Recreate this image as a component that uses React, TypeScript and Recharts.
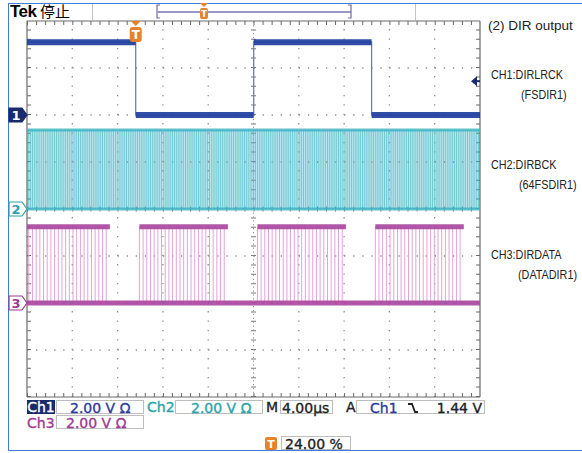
import React from 'react';
import { LineChart, Line, XAxis, YAxis, ReferenceLine, ReferenceDot, ReferenceArea } from 'recharts';

// screen: 10 div x 4 µs across, 8 divisions up (values below are in divisions)
const timeSpan = 40;
const timeGrid = [4, 8, 12, 16, 24, 28, 32, 36];
const divGrid = [1, 2, 3, 5, 6, 7];

// CH1 DIRLRCK (fs): edges in µs, first one falling at the 24 % trigger point
const lrckEdges = [9.6, 20.02, 30.43];
const ch1Low = 6.0;
const ch1High = 7.55;
const trigLevel = 6.72; // 1.44 V on ch1

// CH2 DIRBCK = 64fs -> 32 clocks per LRCK half
const bckPerHalf = 32;
const ch2Low = 4.0;
const ch2High = 5.68;

// CH3 DIRDATA: 24 bit words, I2S (one clock after LRCK edge)
const dataWords = [
  '101010101010101010101010',
  '101010101010101010101010',
  '101010101010101010101010',
  '101010101010101010101010',
];
const ch3Low = 2.0;
const ch3High = 3.62;

type Pt = { t: number; v: number | null };

const halfLen = lrckEdges[1] - lrckEdges[0];
const bitLen = halfLen / bckPerHalf;
const halfStarts = [lrckEdges[0] - halfLen, ...lrckEdges];

// ch1
const ch1Wave: Pt[] = [{ t: 0, v: ch1High }];
const ch1Band: Pt[] = [{ t: 0, v: ch1High }];
let lvl = ch1High;
lrckEdges.forEach((e) => {
  const next = lvl === ch1High ? ch1Low : ch1High;
  ch1Wave.push({ t: e, v: lvl }, { t: e, v: next });
  ch1Band.push({ t: e, v: lvl }, { t: e, v: null }, { t: e, v: next });
  lvl = next;
});
ch1Wave.push({ t: timeSpan, v: lvl });
ch1Band.push({ t: timeSpan, v: lvl });

// ch2
const ch2Wave: Pt[] = [];
halfStarts.forEach((h) => {
  for (let k = 0; k < bckPerHalf; k++) {
    const a = h + k * bitLen;
    ch2Wave.push(
      { t: a, v: ch2Low },
      { t: a + bitLen / 2, v: ch2Low },
      { t: a + bitLen / 2, v: ch2High },
      { t: a + bitLen, v: ch2High }
    );
  }
});
const ch2Band: Pt[] = [
  { t: 0, v: ch2High }, { t: timeSpan, v: ch2High }, { t: timeSpan, v: null },
  { t: 0, v: ch2Low }, { t: timeSpan, v: ch2Low },
];

// ch3
const ch3Wave: Pt[] = [];
const ch3Band: Pt[] = [];
halfStarts.forEach((h, i) => {
  for (let k = 0; k < bckPerHalf; k++) {
    const a = h + k * bitLen;
    const on = k >= 1 && k <= 24 && dataWords[i][k - 1] === '1';
    const v = on ? ch3High : ch3Low;
    ch3Wave.push({ t: a, v }, { t: a + bitLen, v });
  }
  ch3Band.push({ t: h + bitLen, v: ch3High }, { t: h + 25 * bitLen, v: ch3High }, { t: h + 25 * bitLen, v: null });
});
ch3Band.push({ t: 0, v: ch3Low }, { t: timeSpan, v: ch3Low });

const navy = '#1b2a6b';
const ch1Col = '#1f3f9f';
const ch2Col = '#2aa3a8';
const ch3Col = '#9c3a94';
const orange = '#e8822a';
const frame = '#3b7dd8';
const monoFont = '"DejaVu Sans", sans-serif';
const noteFont = '"Liberation Sans", Arial, sans-serif';

const sig = { dot: false, activeDot: false, isAnimationActive: false, type: 'linear' as const, dataKey: 'v' };

const ChMarker = (num: string, col: string, filled: boolean) => (p: any) => {
  const { cx, cy } = p;
  const pts = `${cx - 18},${cy - 7} ${cx - 5},${cy - 7} ${cx},${cy} ${cx - 5},${cy + 7} ${cx - 18},${cy + 7}`;
  return (
    <g>
      <polygon points={pts} fill={filled ? col : '#fff'} stroke={col} strokeWidth={1.2} />
      <text x={cx - 11} y={cy + 5} textAnchor="middle" fontFamily={monoFont} fontWeight="bold" fontSize={13} fill={filled ? '#fff' : col}>
        {num}
      </text>
    </g>
  );
};

const TrigArrow = (p: any) => {
  const { cx, cy } = p;
  return (
    <g>
      <polygon points={`${cx - 9},${cy} ${cx - 3},${cy - 5} ${cx - 3},${cy + 5}`} fill={navy} />
      <line x1={cx - 3} y1={cy} x2={cx} y2={cy} stroke={navy} strokeWidth={2} />
    </g>
  );
};

const TrigT = (p: any) => {
  const { cx, cy } = p;
  return (
    <g>
      <polygon points={`${cx - 5},${cy} ${cx + 5},${cy} ${cx},${cy + 5}`} fill={orange} />
      <rect x={cx - 6} y={cy + 6} width={12} height={15} rx={3} fill={orange} />
      <text x={cx} y={cy + 18} textAnchor="middle" fontFamily={monoFont} fontWeight="bold" fontSize={12} fill="#fff">T</text>
    </g>
  );
};

const abs = (x: number, y: number, extra: React.CSSProperties = {}): React.CSSProperties => ({
  position: 'absolute', left: x, top: y, whiteSpace: 'nowrap', ...extra,
});
const boxed = (x: number, y: number, w: number): React.CSSProperties =>
  abs(x, y, { width: w, height: 14, border: '1px solid #bdbdbd', boxSizing: 'border-box', background: '#fff' });
const txt = (col: string): React.CSSProperties => ({
  fontFamily: monoFont, fontSize: 14, color: col, lineHeight: '14px', WebkitTextStroke: `0.35px ${col}`,
});
const narrow: React.CSSProperties = { fontSize: 13.5, transform: 'scaleX(0.8)', transformOrigin: 'left center' };

export default function App() {
  return (
    <div style={{ position: 'fixed', left: 0, top: 0, width: 582, height: 453, background: '#fff', overflow: 'hidden' }}>
      {/* outer frame */}
      <div style={abs(8, 3, { width: 574, height: 448, border: `1.5px solid ${frame}`, borderRight: 'none', boxSizing: 'border-box' })} />
      {/* header */}
      <div style={abs(10, 2, { fontFamily: '"Liberation Sans", Arial, sans-serif', fontWeight: 'bold', fontSize: 17, letterSpacing: -0.5 })}>Tek</div>
      <div style={abs(40, 2, { fontFamily: '"Noto Sans CJK SC", sans-serif', fontSize: 15, lineHeight: '18px' })}>停止</div>
      <div style={abs(92, 4, { width: 1, height: 16, background: '#c4c4c4' })} />
      <div style={abs(415, 4, { width: 1, height: 16, background: '#c4c4c4' })} />
      <svg style={abs(150, 0)} width={210} height={20}>
        <polyline points="10,5 7,5 7,18 10,18" fill="none" stroke="#6f6c9c" strokeWidth={1.2} />
        <line x1={7} y1={12} x2={201} y2={12} stroke="#9a96c6" strokeWidth={2} />
        <polyline points="198,5 201,5 201,18 198,18" fill="none" stroke="#6f6c9c" strokeWidth={1.2} />
        <polygon points="50,3 58,3 54,7" fill={orange} />
        <rect x={50} y={8} width={8} height={11} rx={2} fill={orange} />
        <text x={54} y={17} textAnchor="middle" fontFamily={monoFont} fontWeight="bold" fontSize={9} fill="#fff">T</text>
      </svg>

      <div style={abs(0, 0)}>
        <LineChart width={582} height={453} margin={{ top: 21, right: 102, bottom: 56, left: 27 }}>
          <XAxis type="number" dataKey="t" domain={[0, timeSpan]} allowDataOverflow hide />
          <YAxis type="number" domain={[0, 8]} allowDataOverflow hide />

          <ReferenceArea x1={0} x2={timeSpan} y1={ch2Low} y2={ch2High} fill="#c4e9ee" fillOpacity={1} stroke="none" />

          {timeGrid.map((t) => (
            <ReferenceLine key={'gx' + t} x={t} stroke="#8c8c8c" strokeWidth={1.3} strokeDasharray="1.3 8.1" />
          ))}
          {divGrid.map((d) => (
            <ReferenceLine key={'gy' + d} y={d} stroke="#8c8c8c" strokeWidth={1.3} strokeDasharray="1.3 7.76" />
          ))}
          <ReferenceLine x={20} stroke="#7a7a7a" strokeWidth={5} strokeDasharray="1 8.4" />
          <ReferenceLine y={4} stroke="#7a7a7a" strokeWidth={5} strokeDasharray="1 8.06" />
          <ReferenceLine x={20} stroke="#9a9a9a" strokeWidth={1} strokeDasharray="1.3 2.6" />
          <ReferenceLine y={4} stroke="#9a9a9a" strokeWidth={1} strokeDasharray="1.3 2.6" />

          {/* border + inner ticks */}
          <ReferenceLine y={8 - 2 / 47} stroke="#6a6a6a" strokeWidth={4} strokeDasharray="1 8.06" />
          <ReferenceLine y={2 / 47} stroke="#6a6a6a" strokeWidth={4} strokeDasharray="1 8.06" />
          <ReferenceLine x={0.18} stroke="#6a6a6a" strokeWidth={4} strokeDasharray="1 8.4" />
          <ReferenceLine x={timeSpan - 0.18} stroke="#6a6a6a" strokeWidth={4} strokeDasharray="1 8.4" />
          <ReferenceLine y={8} stroke="#6a6a6a" strokeWidth={1.2} />
          <ReferenceLine y={0} stroke="#6a6a6a" strokeWidth={1.2} />
          <ReferenceLine x={0} stroke="#6a6a6a" strokeWidth={1.2} />
          <ReferenceLine x={timeSpan} stroke="#6a6a6a" strokeWidth={1.2} />

          <Line {...sig} data={ch2Wave} stroke="#56bfcc" strokeWidth={1} strokeOpacity={0.75} />
          <Line {...sig} data={ch2Band} stroke="#3db3c2" strokeWidth={3} strokeOpacity={0.8} />
          <Line {...sig} data={ch3Wave} stroke="#e3a3dc" strokeWidth={1} />
          <Line {...sig} data={ch3Band} stroke="#a9469e" strokeWidth={5} strokeOpacity={0.9} />
          <Line {...sig} data={ch1Wave} stroke="#6a70c8" strokeWidth={1.2} />
          <Line {...sig} data={ch1Band} stroke={ch1Col} strokeWidth={6} strokeOpacity={0.92} />

          <ReferenceDot x={0} y={ch1Low} r={1} ifOverflow="visible" shape={ChMarker('1', navy, true)} />
          <ReferenceDot x={0} y={ch2Low} r={1} ifOverflow="visible" shape={ChMarker('2', ch2Col, false)} />
          <ReferenceDot x={0} y={ch3Low} r={1} ifOverflow="visible" shape={ChMarker('3', ch3Col, false)} />
          <ReferenceDot x={timeSpan} y={trigLevel} r={1} ifOverflow="visible" shape={TrigArrow} />
          <ReferenceDot x={lrckEdges[0]} y={8} r={1} ifOverflow="visible" shape={TrigT} />
        </LineChart>
      </div>

      {/* right side notes */}
      <div style={{ fontFamily: noteFont, fontSize: 13.5, color: '#222' }}>
        <div style={abs(488, 18)}>(2) DIR output</div>
        <div style={abs(491, 67, narrow)}>CH1:DIRLRCK</div>
        <div style={abs(521, 87, narrow)}>(FSDIR1)</div>
        <div style={abs(491, 157, narrow)}>CH2:DIRBCK</div>
        <div style={abs(519, 177, narrow)}>(64FSDIR1)</div>
        <div style={abs(491, 247, narrow)}>CH3:DIRDATA</div>
        <div style={abs(518, 267, narrow)}>(DATADIR1)</div>
      </div>

      {/* readout */}
      <div style={abs(27, 400, { width: 28, height: 14, background: navy, ...txt('#fff'), textAlign: 'center' })}>Ch1</div>
      <div style={boxed(56, 400, 88)}><span style={{ ...txt('#2b3b9e'), position: 'absolute', left: 13 }}>2.00 V Ω</span></div>
      <div style={abs(147, 400, txt(ch2Col))}>Ch2</div>
      <div style={boxed(175, 400, 88)}><span style={{ ...txt(ch2Col), position: 'absolute', left: 15 }}>2.00 V Ω</span></div>
      <div style={abs(266, 400, txt('#222'))}>M</div>
      <div style={boxed(280, 400, 53)}><span style={{ ...txt('#222'), position: 'absolute', left: 1 }}>4.00µs</span></div>
      <div style={abs(346, 400, txt('#222'))}>A</div>
      <div style={boxed(356, 400, 129)}>
        <span style={{ ...txt('#2b3b9e'), position: 'absolute', left: 13 }}>Ch1</span>
        <svg style={{ position: 'absolute', left: 50, top: 1 }} width={12} height={12}>
          <polyline points="1,2 5,2 8,10 11,10" fill="none" stroke="#222" strokeWidth={1.8} />
        </svg>
        <span style={{ ...txt('#222'), position: 'absolute', right: 2 }}>1.44 V</span>
      </div>
      <div style={abs(27, 416, txt(ch3Col))}>Ch3</div>
      <div style={boxed(56, 415, 88)}><span style={{ ...txt(ch3Col), position: 'absolute', left: 9 }}>2.00 V Ω</span></div>
      <svg style={abs(265, 437)} width={13} height={14}>
        <rect x={0} y={0} width={12} height={13} rx={2} fill={orange} />
        <text x={6} y={11} textAnchor="middle" fontFamily={monoFont} fontWeight="bold" fontSize={11} fill="#fff">T</text>
      </svg>
      <div style={boxed(281, 436, 70)}><span style={{ ...txt('#222'), position: 'absolute', left: 3 }}>24.00 %</span></div>
    </div>
  );
}
